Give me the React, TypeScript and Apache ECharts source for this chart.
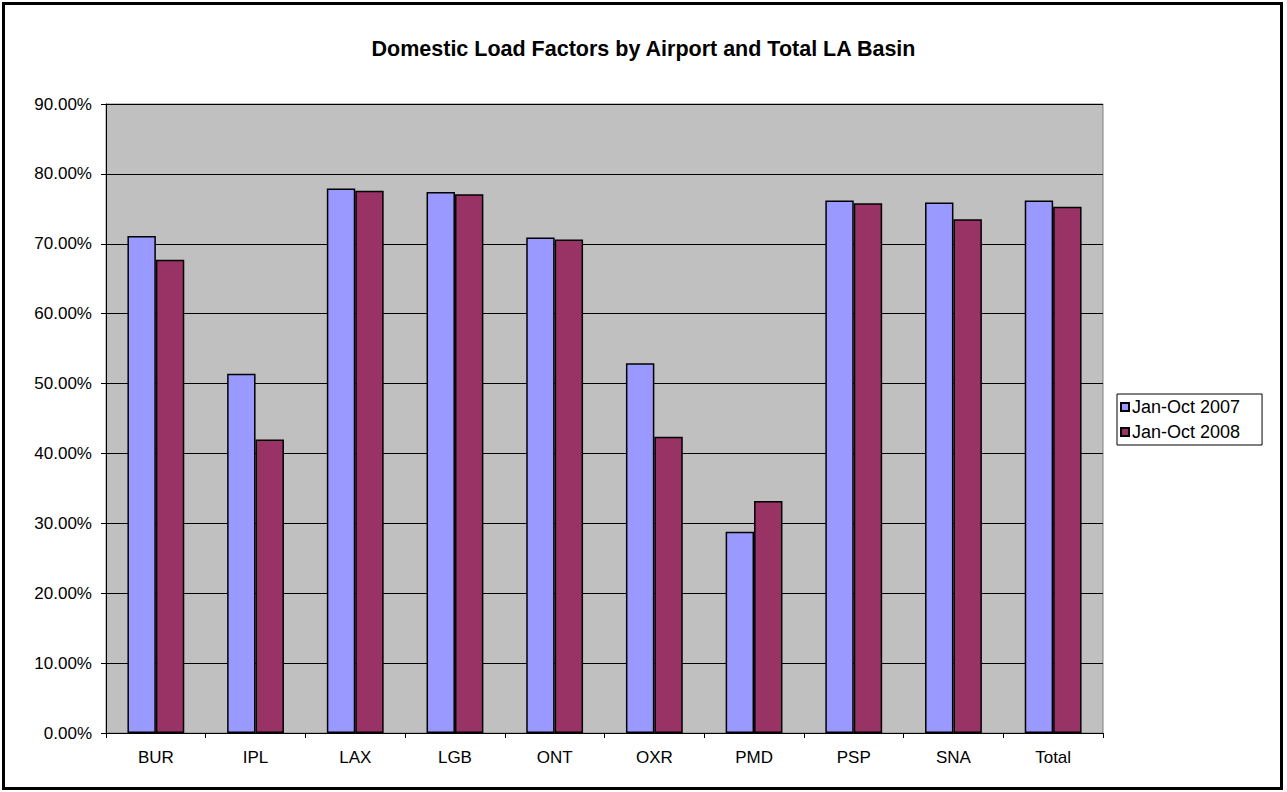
import React, { useEffect, useRef } from "react";
import * as echarts from "echarts";

const categories = ["BUR", "IPL", "LAX", "LGB", "ONT", "OXR", "PMD", "PSP", "SNA", "Total"];
const jan2007 = [71.1, 51.4, 77.9, 77.4, 70.9, 52.9, 28.8, 76.2, 75.9, 76.2];
const jan2008 = [67.7, 42.0, 77.6, 77.1, 70.6, 42.4, 33.2, 75.8, 73.5, 75.3];
const seriesNames = ["Jan-Oct 2007", "Jan-Oct 2008"];
const yTicks = { min: 0, max: 90, interval: 10 };

const FONT = "'Liberation Sans', Arial, sans-serif";

export default function App() {
  const ref = useRef<HTMLDivElement>(null);
  useEffect(() => {
    if (!ref.current) return;
    const chart = echarts.init(ref.current, undefined, { renderer: "svg" });
    chart.setOption({
      animation: false,
      backgroundColor: "#ffffff",
      textStyle: { fontFamily: FONT },
      title: {
        text: "Domestic Load Factors by Airport and Total LA Basin",
        left: "center",
        top: 33,
        textStyle: { fontFamily: FONT, fontSize: 21.5, fontWeight: "bold", color: "#000" },
      },
      grid: {
        left: 106,
        right: 184,
        top: 104,
        bottom: 59,
        show: true,
        backgroundColor: "#C0C0C0",
        borderColor: "#808080",
        borderWidth: 1,
      },
      legend: {
        orient: "vertical",
        left: 1117,
        top: 394,
        data: seriesNames,
        icon: "rect",
        itemWidth: 8,
        itemHeight: 8,
        itemGap: 7,
        padding: [4, 22, 4, 3],
        borderColor: "#000",
        borderWidth: 1,
        backgroundColor: "#fff",
        textStyle: { fontFamily: FONT, fontSize: 18, color: "#000", padding: [0, 0, 0, -2] },
      },
      xAxis: {
        type: "category",
        data: categories,
        axisLine: { show: true, lineStyle: { color: "#000", width: 1 } },
        axisTick: { show: true, length: 5, lineStyle: { color: "#000" } },
        axisLabel: { fontFamily: FONT, fontSize: 17, color: "#000", margin: 16 },
      },
      yAxis: {
        type: "value",
        min: yTicks.min,
        max: yTicks.max,
        interval: yTicks.interval,
        axisLine: { show: true, lineStyle: { color: "#000", width: 1 } },
        axisTick: { show: true, length: 5, lineStyle: { color: "#000" } },
        axisLabel: {
          fontFamily: FONT,
          fontSize: 17,
          color: "#000",
          margin: 14,
          formatter: (v: number) => v.toFixed(2) + "%",
        },
        splitLine: { show: true, lineStyle: { color: "#000", width: 1 } },
      },
      series: [
        {
          name: seriesNames[0],
          type: "bar",
          data: jan2007,
          barGap: "0%",
          barCategoryGap: "43%",
          itemStyle: { color: "#9999FF", borderColor: "#000", borderWidth: 1.5 },
        },
        {
          name: seriesNames[1],
          type: "bar",
          data: jan2008,
          barGap: "0%",
          barCategoryGap: "43%",
          itemStyle: { color: "#993366", borderColor: "#000", borderWidth: 1.5 },
        },
      ],
      graphic: [
        {
          type: "rect",
          shape: { x: 3.5, y: 3.5, width: 1278, height: 785 },
          style: { fill: "none", stroke: "#000", lineWidth: 3 },
          silent: true,
          z: 100,
        },
      ],
    });
    return () => chart.dispose();
  }, []);
  return (
    <div
      ref={ref}
      style={{ position: "absolute", left: 0, top: 0, width: 1287, height: 792 }}
    />
  );
}
